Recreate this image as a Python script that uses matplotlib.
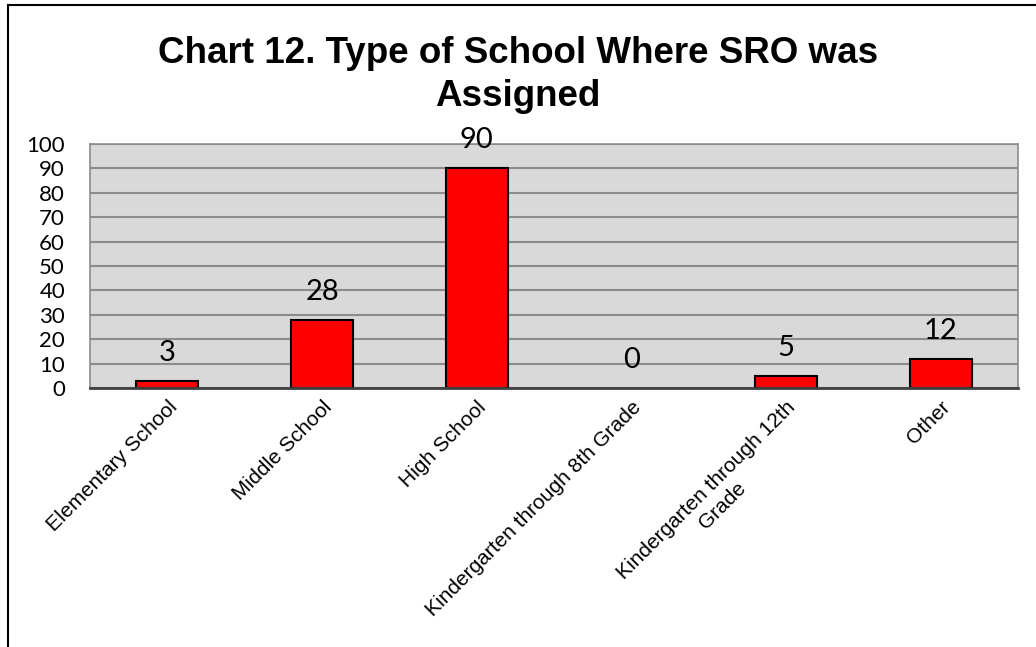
import matplotlib
matplotlib.use('Agg')
import matplotlib.pyplot as plt
from matplotlib.lines import Line2D

categories = ['Elementary School', 'Middle School', 'High School',
              'Kindergarten through 8th Grade',
              'Kindergarten through 12th\nGrade', 'Other']
counts = [3, 28, 90, 0, 5, 12]
yticks = [0, 10, 20, 30, 40, 50, 60, 70, 80, 90, 100]

fig = plt.figure(figsize=(10.36, 6.47), dpi=100)
ax = fig.add_axes([0.0869, 0.4003, 0.8957, 0.3771])

ax.set_facecolor('#d9d9d9')
ax.set_axisbelow(True)
ax.yaxis.grid(True, color='#8c8c8c', linewidth=1.5)

x = range(len(categories))
bars = ax.bar(x, counts, width=0.4, color='#ff0000', edgecolor='black', linewidth=1.5)
for b, v in zip(bars, counts):
    if v == 0:
        b.set_linewidth(0)

ax.set_xlim(-0.5, len(categories) - 0.5)
ax.set_ylim(0, 100)
ax.set_yticks(yticks)
ax.set_yticklabels([str(t) for t in yticks], fontfamily='Lato', fontsize=16)
ax.tick_params(axis='y', length=0, pad=18)

ax.set_xticks(list(x))
ax.set_xticklabels(categories, rotation=45, ha='right', va='top', rotation_mode='anchor',
                   fontfamily='Liberation Sans', fontsize=15, multialignment='center')
ax.tick_params(axis='x', length=0, pad=7)

for s in ['left', 'right', 'top']:
    ax.spines[s].set_color('#8c8c8c')
    ax.spines[s].set_linewidth(1.2)
ax.spines['bottom'].set_color('#404040')
ax.spines['bottom'].set_linewidth(2)

# value labels above each bar
for xi, v in zip(x, counts):
    ax.annotate(str(v), (xi, v), xytext=(0, 14.5), textcoords='offset points',
                ha='center', va='baseline', fontfamily='Lato', fontsize=21)

fig.text(0.5, 1 - 75 / 647, 'Chart 12. Type of School Where SRO was\nAssigned',
         ha='center', va='center', fontfamily='Liberation Sans', fontweight='bold',
         fontsize=26.5, linespacing=1.27)

# outer frame, only top and left edges
fig.add_artist(Line2D([8 / 1036, 8 / 1036], [0, 1 - 5 / 647], color='black', linewidth=1.5))
fig.add_artist(Line2D([8 / 1036, 1], [1 - 5 / 647, 1 - 5 / 647], color='black', linewidth=1.5))

fig.savefig('out.png', dpi=100)
